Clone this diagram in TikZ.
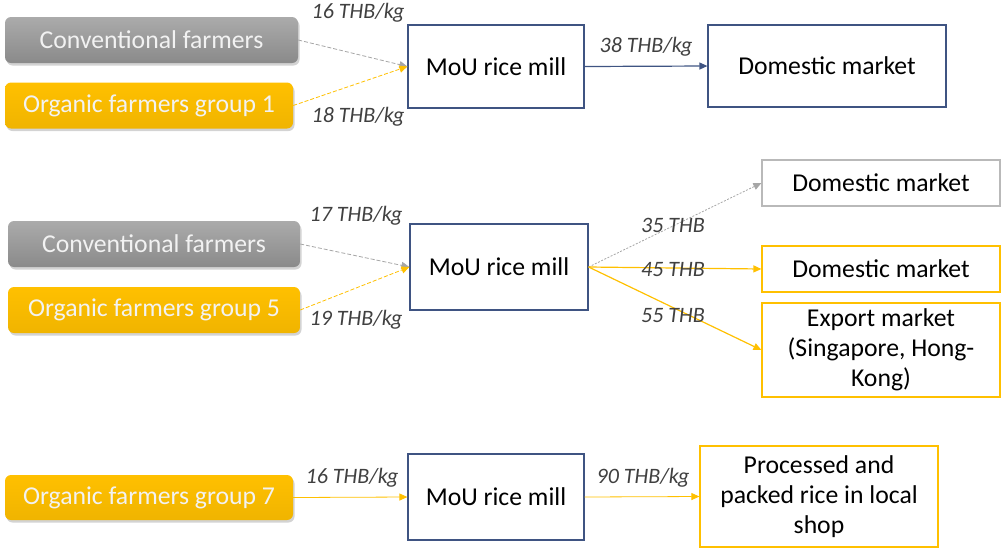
\documentclass[tikz,border=0pt]{standalone}
\usepackage{fontspec}
\setmainfont{Carlito}
\usetikzlibrary{arrows.meta,shadows}
\definecolor{gold}{HTML}{FFC000}
\definecolor{golddk}{HTML}{F0B400}
\definecolor{greybox}{HTML}{9C9C9C}
\definecolor{greydk}{HTML}{8A8A8A}
\definecolor{millblue}{HTML}{3F5482}
\definecolor{lblgrey}{HTML}{404040}
\tikzset{
  farmer/.style={rounded corners=6pt, minimum height=46pt, text=white!95!black,
    font=\fontsize{25.7}{30}\selectfont, inner sep=0pt,
    drop shadow={shadow xshift=1.5pt, shadow yshift=-2.5pt, opacity=0.35}},
  convbox/.style={farmer, top color=greybox!85!white, bottom color=greydk},
  orgbox/.style={farmer, top color=gold, bottom color=golddk},
  plainbox/.style={draw, line width=1.2pt, fill=white, align=center,
    font=\fontsize{25.7}{30}\selectfont, inner sep=0pt},
  mill/.style={plainbox, draw=millblue, minimum width=176pt},
  price/.style={font=\itshape\fontsize{22}{26}\selectfont, text=lblgrey, inner sep=0pt},
  tip/.style={-{Triangle[length=8pt,width=7pt]}},
  greyflow/.style={tip, draw=gray!70, line width=0.8pt, dash pattern=on 4pt off 2pt},
  goldflow/.style={tip, draw=gold, line width=0.8pt, dash pattern=on 4pt off 2pt},
  goldline/.style={tip, draw=gold, line width=1.2pt},
  blueline/.style={tip, draw=millblue, line width=1.2pt}
}
\begin{document}
\begin{tikzpicture}[x=1pt,y=-1pt]
\useasboundingbox (0,0) rectangle (1001,550);

% first chain
\node[convbox, minimum width=293pt] (conv1) at (151.5,40) {Conventional farmers};
\node[orgbox, minimum width=288pt] (org1) at (149,105.5) {Organic farmers group 1};
\node[mill, minimum height=83pt] (mill1) at (496,66.5) {MoU rice mill};
\node[plainbox, draw=millblue, minimum width=238pt, minimum height=82pt] (dom1) at (827,66) {Domestic market};
\draw[greyflow] (conv1.east) -- (mill1.west);
\draw[goldflow] (org1.east) -- (mill1.west);
\draw[blueline] (mill1.east) -- (dom1.west);
\node[price] (p16a) at (358,13) {16 THB/kg};
\node[price] (p18) at (358,117) {18 THB/kg};
\node[price] (p38) at (646,47) {38 THB/kg};

% second chain
\node[convbox, minimum width=292pt] (conv2) at (154,244) {Conventional farmers};
\node[orgbox, minimum width=292pt] (org5) at (154,310) {Organic farmers group 5};
\node[mill, minimum width=178pt, minimum height=86pt] (mill2) at (499,267) {MoU rice mill};
\node[plainbox, draw=gray!55, minimum width=238pt, minimum height=46pt] (domg) at (881,183) {Domestic market};
\node[plainbox, draw=gold, minimum width=238pt, minimum height=46pt] (domo) at (881,269) {Domestic market};
\node[plainbox, draw=gold, minimum width=238pt, minimum height=94pt] (exp) at (881,350) {Export market\\(Singapore, Hong-\\Kong)};
\draw[greyflow] (conv2.east) -- (mill2.west);
\draw[goldflow] (org5.east) -- (mill2.west);
\draw[greyflow, dash pattern=on 2pt off 1.5pt] (mill2.east) -- (domg.west);
\draw[goldline] (mill2.east) -- (domo.west);
\draw[goldline] (mill2.east) -- (exp.west);
\node[price] (p17) at (356,216) {17 THB/kg};
\node[price] (p19) at (356,320) {19 THB/kg};
\node[price] (p35) at (673,225) {35 THB};
\node[price] (p45) at (673,270) {45 THB};
\node[price] (p55) at (673,316) {55 THB};

% third chain
\node[orgbox, minimum width=288pt, minimum height=45pt] (org7) at (149,497.5) {Organic farmers group 7};
\node[mill, minimum height=86pt] (mill3) at (496,497) {MoU rice mill};
\node[plainbox, draw=gold, minimum width=238pt, minimum height=101pt] (proc) at (819,496.5) {Processed and\\packed rice in local\\shop};
\draw[goldline, line width=0.8pt] (org7.east) -- (mill3.west);
\draw[goldline, line width=0.8pt] (mill3.east) -- (proc.west);
\node[price] (p16b) at (352,478) {16 THB/kg};
\node[price] (p90) at (643,478) {90 THB/kg};
\end{tikzpicture}
\end{document}
